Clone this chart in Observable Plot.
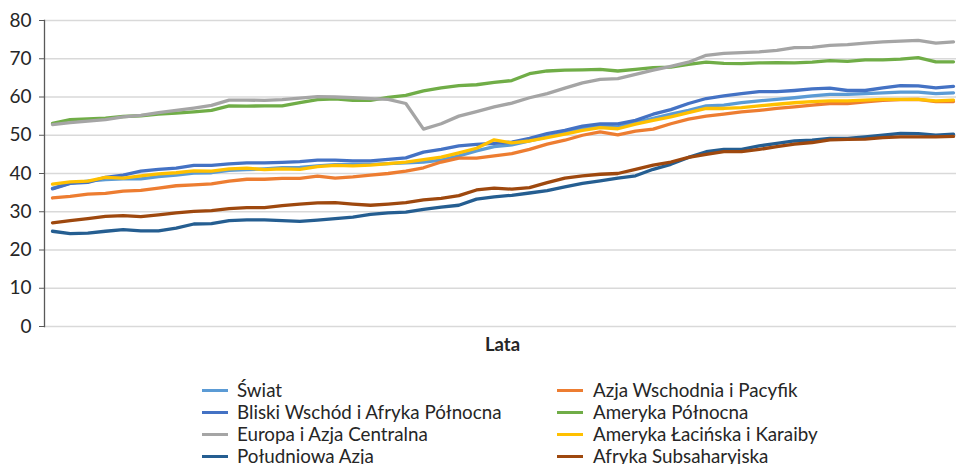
<!DOCTYPE html>
<html>
<head>
<meta charset="utf-8">
<script src="https://cdn.jsdelivr.net/npm/d3@7"></script>
<script src="https://cdn.jsdelivr.net/npm/@observablehq/plot@0.6"></script>
<style>
  html, body { margin: 0; padding: 0; background: #fff; }
  #wrap { width: 956px; height: 464px; position: relative; overflow: hidden; font-family: Lato, "Noto Sans", sans-serif; }
  #legend { position: relative; width: 956px; height: 86px; }
  .item { position: absolute; height: 22px; line-height: 22px; font-size: 18.8px; color: #262626; white-space: nowrap; }
  .sw { position: absolute; top: 10px; width: 26px; height: 3px; }
  .lbl { position: absolute; top: 0; }
</style>
</head>
<body>
<div id="wrap"></div>
<script>
const years = d3.range(1970, 2022);

const swiat = [36.1, 37.5, 38.0, 38.4, 38.6, 38.6, 39.2, 39.6, 40.1, 40.2, 40.8, 41.0, 41.2,
  41.5, 41.6, 42.0, 42.3, 42.4, 42.4, 42.6, 42.8, 43.0, 43.5, 44.6, 45.9, 47.0, 47.5,
  48.5, 49.6, 50.7, 51.7, 52.4, 52.2, 53.3, 54.4, 55.5, 56.5, 57.7, 57.9,
  58.5, 59.0, 59.4, 59.8, 60.3, 60.7, 60.7, 60.9, 61.1, 61.3, 61.3, 60.9, 61.1];

const azjaWschodnia = [33.6, 34.0, 34.6, 34.8, 35.4, 35.6, 36.2, 36.8, 37.0, 37.3, 38.0, 38.5, 38.5,
  38.7, 38.7, 39.3, 38.8, 39.1, 39.6, 40.0, 40.6, 41.5, 43.0, 44.0, 44.0, 44.6, 45.2,
  46.3, 47.7, 48.7, 50.0, 50.9, 50.1, 51.1, 51.6, 53.0, 54.2, 55.0, 55.5,
  56.1, 56.5, 57.0, 57.4, 57.9, 58.3, 58.3, 58.7, 59.1, 59.3, 59.4, 58.8, 58.8];

const bliskiWschod = [36.0, 37.4, 37.7, 39.0, 39.6, 40.6, 41.1, 41.4, 42.1, 42.1, 42.5, 42.8, 42.8,
  42.9, 43.1, 43.5, 43.5, 43.3, 43.3, 43.7, 44.1, 45.6, 46.3, 47.2, 47.6, 47.9, 48.2,
  49.2, 50.4, 51.3, 52.4, 53.0, 53.0, 53.9, 55.5, 56.7, 58.3, 59.6, 60.3,
  60.9, 61.4, 61.4, 61.7, 62.1, 62.3, 61.7, 61.7, 62.4, 63.0, 62.9, 62.4, 62.8];

const amerykaPolnocna = [53.1, 54.1, 54.3, 54.5, 54.9, 55.1, 55.5, 55.8, 56.1, 56.5, 57.7, 57.6, 57.7,
  57.7, 58.5, 59.3, 59.5, 59.1, 59.1, 59.9, 60.4, 61.6, 62.4, 63.0, 63.2, 63.8, 64.3,
  66.1, 66.8, 67.0, 67.1, 67.2, 66.8, 67.2, 67.7, 67.8, 68.5, 69.1, 68.8,
  68.7, 68.9, 69.0, 68.9, 69.1, 69.5, 69.3, 69.7, 69.7, 69.9, 70.3, 69.2, 69.2];

const europa = [52.8, 53.3, 53.7, 54.1, 54.8, 55.2, 55.9, 56.5, 57.1, 57.8, 59.2, 59.2, 59.1,
  59.3, 59.7, 60.1, 60.0, 59.8, 59.6, 59.4, 58.3, 51.6, 53.0, 55.0, 56.2, 57.4, 58.4,
  59.8, 60.9, 62.3, 63.7, 64.6, 64.8, 65.9, 67.0, 68.0, 69.1, 70.9, 71.4,
  71.6, 71.8, 72.2, 72.9, 73.0, 73.5, 73.7, 74.1, 74.4, 74.6, 74.8, 74.1, 74.4];

const amerykaLacinska = [37.2, 37.8, 38.0, 39.0, 38.8, 39.4, 39.9, 40.2, 40.7, 40.6, 41.2, 41.4, 41.0,
  41.2, 41.1, 41.8, 42.1, 42.0, 42.2, 42.6, 43.0, 43.6, 44.3, 45.4, 46.6, 48.8, 48.0,
  48.5, 49.4, 50.3, 51.3, 52.0, 51.7, 52.9, 53.9, 54.8, 55.9, 57.0, 57.0,
  57.2, 57.7, 58.1, 58.5, 58.8, 59.0, 59.0, 59.2, 59.4, 59.4, 59.4, 59.0, 59.2];

const poludniowaAzja = [24.9, 24.3, 24.4, 24.9, 25.3, 25.0, 25.0, 25.7, 26.8, 26.9, 27.7, 27.9, 27.9,
  27.7, 27.5, 27.8, 28.2, 28.6, 29.3, 29.7, 29.9, 30.6, 31.2, 31.7, 33.3, 33.9, 34.3,
  34.9, 35.5, 36.5, 37.4, 38.1, 38.8, 39.4, 41.1, 42.4, 44.2, 45.7, 46.3,
  46.3, 47.2, 47.9, 48.5, 48.7, 49.2, 49.2, 49.6, 50.0, 50.5, 50.4, 50.0, 50.3];

const afrykaSubsaharyjska = [27.1, 27.7, 28.2, 28.8, 29.0, 28.7, 29.2, 29.7, 30.1, 30.3, 30.8, 31.1, 31.1,
  31.6, 32.0, 32.3, 32.4, 32.0, 31.7, 32.0, 32.4, 33.1, 33.5, 34.2, 35.7, 36.2, 35.9,
  36.3, 37.6, 38.8, 39.4, 39.8, 40.0, 41.1, 42.2, 43.0, 44.2, 45.0, 45.7,
  45.7, 46.3, 47.0, 47.7, 48.1, 48.8, 48.9, 49.0, 49.4, 49.6, 49.6, 49.6, 49.7];

const seriesNames = ["Świat", "Azja Wschodnia i Pacyfik", "Bliski Wschód i Afryka Północna",
  "Ameryka Północna", "Europa i Azja Centralna", "Ameryka Łacińska i Karaiby",
  "Południowa Azja", "Afryka Subsaharyjska"];
const seriesValues = [swiat, azjaWschodnia, bliskiWschod, amerykaPolnocna, europa,
  amerykaLacinska, poludniowaAzja, afrykaSubsaharyjska];
const seriesColors = ["#5B9BD5", "#ED7D31", "#4472C4", "#70AD47", "#A5A5A5", "#FFC000", "#255E91", "#9E480E"];
const yTicks = [0, 10, 20, 30, 40, 50, 60, 70, 80];
const xLabel = "Lata";

const data = seriesNames.flatMap((name, k) =>
  seriesValues[k].map((v, i) => ({ series: name, year: years[i], value: v })));

const chart = Plot.plot({
  width: 956,
  height: 378,
  marginLeft: 44,
  marginRight: 0,
  marginTop: 20,
  marginBottom: 52,
  style: { fontFamily: "Lato, 'Noto Sans', sans-serif", background: "#fff" },
  x: { type: "linear", domain: [years[0], years[years.length - 1]], range: [52, 953], axis: null },
  y: { domain: [0, 80] },
  color: { domain: seriesNames, range: seriesColors },
  marks: [
    Plot.gridY(yTicks, { stroke: "#D9D9D9", strokeOpacity: 1, strokeWidth: 1.3 }),
    Plot.axisY(yTicks, { tickSize: 5, tickPadding: 8, fontSize: 19, stroke: "#595959", fill: "#262626", label: null }),
    Plot.frame({ anchor: "left", stroke: "#595959", strokeWidth: 1.3 }),
    Plot.line(data, { x: "year", y: "value", z: "series", stroke: "series", strokeWidth: 3.3,
      strokeLinejoin: "round", strokeLinecap: "round" }),
    Plot.text([xLabel], { frameAnchor: "bottom", dy: 24, dx: 2, fontSize: 18.5, fontWeight: "bold", fill: "#262626" })
  ]
});

const wrap = document.getElementById("wrap");
wrap.appendChild(chart);

const legend = document.createElement("div");
legend.id = "legend";
const colLeft = [202, 557];
seriesNames.forEach((name, k) => {
  const col = k % 2, row = Math.floor(k / 2);
  const item = document.createElement("div");
  item.className = "item";
  item.style.left = colLeft[col] + "px";
  item.style.top = (1 + row * 21.9) + "px";
  const sw = document.createElement("div");
  sw.className = "sw";
  sw.style.left = "0px";
  sw.style.background = seriesColors[k];
  const lbl = document.createElement("div");
  lbl.className = "lbl";
  lbl.style.left = (col === 0 ? 35 : 36) + "px";
  lbl.textContent = name;
  item.appendChild(sw);
  item.appendChild(lbl);
  legend.appendChild(item);
});
wrap.appendChild(legend);
</script>
</body>
</html>
